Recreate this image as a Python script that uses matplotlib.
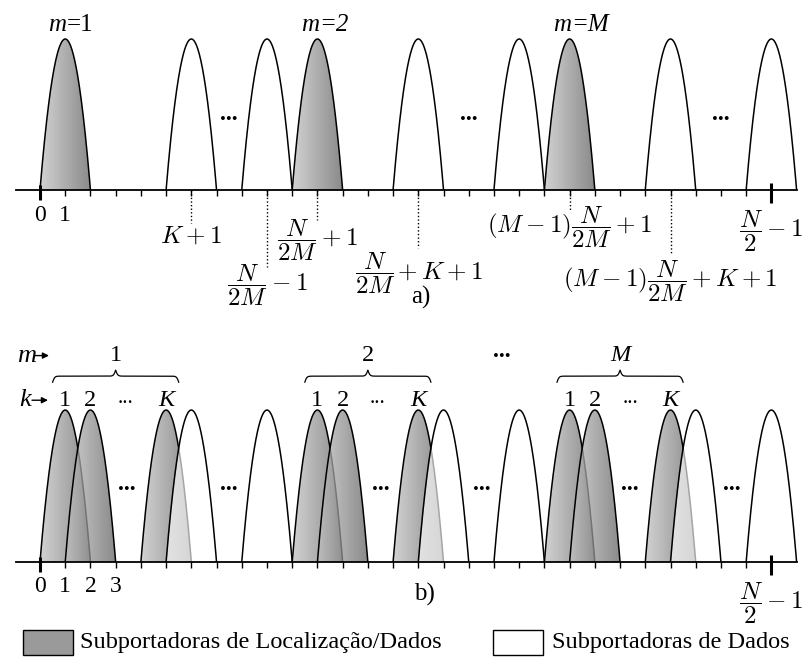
import numpy as np
import matplotlib
matplotlib.use("Agg")
import matplotlib.pyplot as plt
from matplotlib.patches import Polygon, Rectangle

plt.rcParams['mathtext.fontset'] = 'cm'
plt.rcParams['font.family'] = ['Liberation Serif', 'DejaVu Serif']

# ---------------- data ----------------
axis_end = 30                       # last subcarrier edge (N/2)
last_index = 29                     # N/2 - 1
# panel a)
a_shaded = [1, 11, 21]              # localization/data subcarriers (m = 1, 2, M)
a_white = [6, 9, 15, 19, 25, 29]    # data subcarriers
a_m_labels = ['1', '2', 'M']
a_mark_pos = [6, 9, 11, 15, 21, 25, 29]
a_mark_labels = [r'$K+1$', r'$\dfrac{N}{2M}-1$', r'$\dfrac{N}{2M}+1$',
                 None, r'$(M-1)\dfrac{N}{2M}+1$',
                 r'$(M-1)\dfrac{N}{2M}+K+1$', r'$\dfrac{N}{2}-1$']
a_split_label = (r'$\dfrac{N}{2M}$', r'$+\:K+1$')   # label at position 15
a_dots = [7.5, 17.0, 27.0]
# panel b)
b_shaded = [1, 2, 5, 11, 12, 15, 21, 22, 25]
b_white = [6, 9, 16, 19, 26, 29]
b_group_first = [1, 11, 21]
b_group_labels = ['1', '2', 'M']
b_k_offsets = [0, 1, 4]
b_k_labels = ['1', '2', 'K']
b_dots = [3.45, 7.5, 13.5, 17.5, 23.4, 27.45]
b_tick_labels = ['0', '1', '2', '3']
legend_labels = ['Subportadoras de Localização/Dados', 'Subportadoras de Dados']

# ---------------- layout helpers ----------------
W, H = 806, 659
PX_UNIT = 25.22
X0 = 40.0
def xu(px):
    return (px - X0) / PX_UNIT

fig = plt.figure(figsize=(W / 100, H / 100), dpi=100)
split = 330
ax_a = fig.add_axes([0, (H - split) / H, 1, split / H])
ax_b = fig.add_axes([0, 0, 1, split / H])
BASE_A, SC_A = 190.0, 151.0
BASE_B, SC_B = 562.3, 151.5
def ya(py):
    return (BASE_A - py) / SC_A
def yb(py):
    return (BASE_B - py) / SC_B

for ax, base, sc, top, bot in [(ax_a, BASE_A, SC_A, 0, split), (ax_b, BASE_B, SC_B, split, H)]:
    ax.set_xlim(xu(0), xu(W))
    ax.set_ylim((base - bot) / sc, (base - top) / sc)
    ax.axis('off')

grad = np.linspace(0, 1, 256)
gvals = (196 - 98 * grad) / 255.0
img = np.zeros((1, 256, 4))
img[..., 0] = gvals
img[..., 1] = gvals
img[..., 2] = gvals
img[..., 3] = 0.75

def hump(ax, c, shaded, z):
    x = np.linspace(c - 1, c + 1, 300)
    y = 1 - (x - c) ** 2
    if shaded:
        poly = Polygon(np.column_stack([x, y]), closed=True, facecolor='none',
                       edgecolor='none', transform=ax.transData)
        ax.add_patch(poly)
        im = ax.imshow(img, extent=[c - 1, c + 1, 0, 1], aspect='auto',
                       interpolation='bilinear', zorder=z)
        im.set_clip_path(poly)
    else:
        ax.fill_between(x, 0, y, color='white', alpha=0.65, lw=0, zorder=z)
    ax.plot(x, y, color='black', lw=1.1, zorder=z + 0.5, solid_capstyle='butt')

def draw_panel(ax, shaded, white, sc):
    items = sorted([(c, True) for c in shaded] + [(c, False) for c in white])
    for i, (c, s) in enumerate(items):
        hump(ax, c, s, 2 + i)
    ax.plot([xu(16), axis_end], [0, 0], color='black', lw=1.3, zorder=100)
    ticks = np.arange(1, last_index)
    ax.vlines(ticks, -6 / sc, 0, color='black', lw=1.0, zorder=100)
    ax.vlines([0], -10 / sc, 5 / sc, color='black', lw=2.2, zorder=100)
    ax.vlines([last_index], -13 / sc, 7 / sc, color='black', lw=2.2, zorder=100)

draw_panel(ax_a, a_shaded, a_white, SC_A)
draw_panel(ax_b, b_shaded, b_white, SC_B)

# ---------------- panel a texts ----------------
FS = 17.5
MFS = 18
for c, lab in zip(a_shaded, a_m_labels):
    ax_a.text(c + 0.05, ya(31), 'm', style='italic', fontsize=18, ha='right', va='baseline')
    ax_a.text(c + 0.05, ya(31), '=' + lab, fontsize=18, ha='left', va='baseline',
              style='normal' if lab == '1' else 'italic')
ax_a.text(0, ya(221), '0', fontsize=17, ha='center', va='baseline')
ax_a.text(1, ya(221), '1', fontsize=17, ha='center', va='baseline')

a_line_end = [223, 267, 220, 248, 211, 255]
a_label_cy = [236.5, 285, 240, 273, 227.5, 281, 231]
for i, (p, lab) in enumerate(zip(a_mark_pos, a_mark_labels)):
    if i < len(a_line_end):
        ax_a.plot([p, p], [0, ya(a_line_end[i])], color='black', lw=1.0,
                  linestyle=(0, (1, 1.6)), zorder=50)
    if lab is None:
        ax_a.text(xu(396), ya(273), a_split_label[0], fontsize=MFS, ha='right', va='center')
        ax_a.text(xu(397), ya(278.5), a_split_label[1], fontsize=MFS, ha='left', va='baseline')
    else:
        ax_a.text(p, ya(a_label_cy[i]), lab, fontsize=MFS, ha='center', va='center')
for d in a_dots:
    ax_a.text(d, ya(120), '...', fontsize=17, fontweight='bold', ha='center', va='baseline')
ax_a.text(xu(421), ya(304), 'a)', fontsize=18, ha='center', va='baseline')

# ---------------- panel b texts ----------------
def brace(ax, x0, x1, y_end, y_tip):
    n = 401
    x = np.linspace(x0, x1, n)
    half = x[:n // 2 + 1]
    beta = 60.0 / (x1 - x0) * 2
    yh = (1 / (1 + np.exp(-beta * (half - half[0]))) +
          1 / (1 + np.exp(-beta * (half - half[-1]))))
    yy = np.concatenate((yh, yh[-2::-1]))
    yy = yy - 0.5
    yy = y_end + yy * (y_tip - y_end)
    ax.plot(x, yy, color='black', lw=0.9)

for first, glab in zip(b_group_first, b_group_labels):
    x0 = first - 0.5
    x1 = first + b_k_offsets[-1] + 0.5
    brace(ax_b, x0, x1, yb(383), yb(371))
    mid = (x0 + x1) / 2
    ax_b.text(mid, yb(362), glab, fontsize=FS, ha='center', va='baseline',
              style='italic' if glab == 'M' else 'normal')
    for off, kl in zip(b_k_offsets, b_k_labels):
        ax_b.text(first + off, yb(407), kl, fontsize=FS, ha='center', va='baseline',
                  style='italic' if kl == 'K' else 'normal')
    ax_b.text(first + 2.4, yb(404), '...', fontsize=15, ha='center', va='baseline')
ax_b.text(xu(502), yb(358), '...', fontsize=17, fontweight='bold', ha='center', va='baseline')

ax_b.text(xu(36), yb(363), 'm', style='italic', fontsize=19, ha='right', va='baseline')
ax_b.annotate('', xy=(xu(49), yb(356.5)), xytext=(xu(35), yb(356.5)),
              arrowprops=dict(arrowstyle='-|>', lw=1.0, color='black', mutation_scale=9,
                              shrinkA=0, shrinkB=0))
ax_b.text(xu(31), yb(407), 'k', style='italic', fontsize=19, ha='right', va='baseline')
ax_b.annotate('', xy=(xu(48), yb(401)), xytext=(xu(32), yb(401)),
              arrowprops=dict(arrowstyle='-|>', lw=1.0, color='black', mutation_scale=9,
                              shrinkA=0, shrinkB=0))

for d in b_dots:
    ax_b.text(d, yb(491), '...', fontsize=17, fontweight='bold', ha='center', va='baseline')
for i, t in enumerate(b_tick_labels):
    ax_b.text(i, yb(592), t, fontsize=17, ha='center', va='baseline')
ax_b.text(xu(424), yb(601), 'b)', fontsize=18, ha='center', va='baseline')
ax_b.text(last_index, yb(603), r'$\dfrac{N}{2}-1$', fontsize=MFS, ha='center', va='center')

# ---------------- legend ----------------
ax_b.add_patch(Rectangle((xu(23), yb(655)), xu(73) - xu(23), yb(630) - yb(655),
                         facecolor='#9a9a9a', edgecolor='black', lw=1.0))
ax_b.text(xu(80), yb(648), legend_labels[0], fontsize=FS, ha='left', va='baseline')
ax_b.add_patch(Rectangle((xu(493), yb(655)), xu(543) - xu(493), yb(630) - yb(655),
                         facecolor='white', edgecolor='black', lw=1.0))
ax_b.text(xu(552), yb(648), legend_labels[1], fontsize=FS, ha='left', va='baseline')

fig.savefig('out.png', dpi=100)
